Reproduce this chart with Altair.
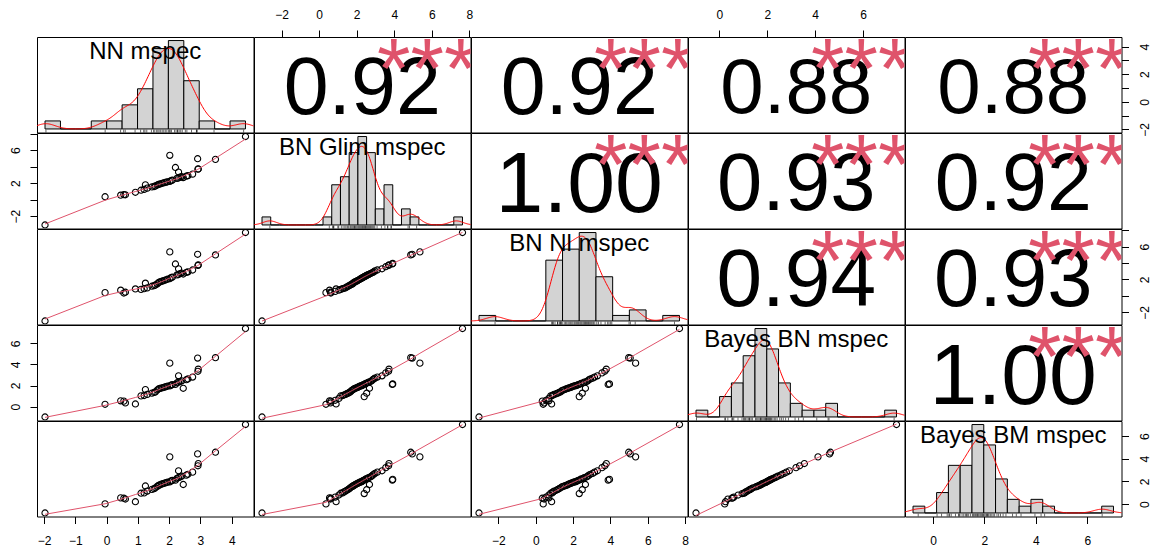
import altair as alt
import numpy as np
import pandas as pd

FONT = "Liberation Sans"
NAMES = ["NN mspec", "BN Glim mspec", "BN Nl mspec", "Bayes BN mspec", "Bayes BM mspec"]
COLS = ["V1", "V2", "V3", "V4", "V5"]
NA = float("nan")

# one value per observation (53 observations, NN mspec has missing values)
nn_mspec = [-1.97, 4.44, 2.02, 2.91, 3.48, -0.05, 0.45, 0.55, 0.60, 0.92,
            NA, NA, 1.10, 1.20, NA, 1.30, NA, 1.45, 1.52, 1.56,
            NA, 1.62, 1.24, 1.66, 1.70, 1.75, 1.80, 1.85, 1.90, 1.95,
            2.02, NA, 2.06, 2.10, NA, NA, NA, NA, 2.25, 2.30,
            2.45, 2.35, 2.40, 2.55, 2.60, NA, 2.75, 2.30, NA, 2.92,
            2.93, 2.20, NA]
bn_glim_mspec = [-3.05, 7.64, 5.37, 4.96, 4.88, 0.36, 0.55, 0.62, 0.60, 0.90,
                 0.85, 1.05, 1.15, 1.25, 1.32, 1.40, 1.47, 1.55, 1.60, 1.66,
                 1.72, 1.78, 1.80, 1.85, 1.90, 1.96, 2.02, 2.07, 2.12, 2.17,
                 2.22, 2.27, 2.31, 2.36, 2.40, 2.44, 2.48, 2.53, 2.58, 2.63,
                 2.68, 2.73, 2.79, 2.85, 2.91, 2.97, 3.10, 3.35, 3.55, 3.70,
                 3.72, 3.90, 3.92]
bn_nl_mspec = [-3.04, 7.70, 5.35, 5.06, 4.98, 0.40, 0.70, 0.35, 0.45, 0.85,
               0.55, 0.70, 0.80, 0.88, 0.93, 0.98, 1.10, 1.18, 1.25, 1.33,
               1.40, 1.47, 1.55, 1.62, 1.70, 1.76, 1.83, 1.90, 1.96, 2.03,
               2.09, 2.15, 2.22, 2.28, 2.33, 2.38, 2.43, 2.49, 2.55, 2.60,
               2.66, 2.72, 2.78, 2.85, 2.93, 3.05, 3.15, 3.30, 3.55, 3.70,
               3.78, 3.88, 3.95]
bayes_bn_mspec = [-0.98, 7.40, 4.12, 4.60, 4.64, 0.22, 0.55, 0.52, 0.35, 0.25,
                  0.60, 0.78, 1.02, 1.05, 1.10, 1.16, 1.22, 1.28, 1.34, 1.40,
                  1.52, 1.57, 1.62, 1.67, 1.72, 1.76, 1.80, 1.85, 1.90, 1.95,
                  1.97, 1.99, 2.03, 2.08, 0.95, 2.14, 2.20, 1.27, 2.26, 2.32,
                  1.74, 2.38, 2.44, 2.55, 2.62, 2.70, 2.80, 2.92, 3.20, 3.35,
                  3.55, 2.10, 2.15]
bayes_bm_mspec = [-0.78, 7.02, 4.17, 4.43, 4.58, 0.02, 0.55, 0.52, 0.45, 0.21,
                  0.62, 0.80, 0.96, 0.99, 1.08, 1.15, 1.22, 1.30, 1.36, 1.44,
                  1.52, 1.56, 1.60, 1.65, 1.70, 1.76, 1.80, 1.85, 1.89, 1.93,
                  1.96, 1.99, 2.04, 2.09, 0.93, 2.16, 2.22, 1.27, 2.28, 2.34,
                  1.73, 2.40, 2.46, 2.56, 2.63, 2.71, 2.82, 2.94, 3.22, 3.38,
                  3.58, 2.12, 2.18]

# correlation labels (upper triangle) and significance stars
COR_TEXT = {(0, 1): "0.92", (0, 2): "0.92", (0, 3): "0.88", (0, 4): "0.88",
            (1, 2): "1.00", (1, 3): "0.93", (1, 4): "0.92",
            (2, 3): "0.94", (2, 4): "0.93",
            (3, 4): "1.00"}
SIG_TEXT = "***"

# histogram breaks (start, end, step) per variable
BREAKS = [(-2.0, 4.5, 0.5), (-3.5, 8.0, 0.5), (-4.0, 8.0, 1.0), (-1.0, 7.5, 0.5), (-1.0, 7.5, 0.5)]

# axis ticks: x axes per column, y axes per row
X_ORIENT = ["bottom", "top", "bottom", "top", "bottom"]
X_TICKS = [[-2, -1, 0, 1, 2, 3, 4], [-2, 0, 2, 4, 6, 8], [-2, 0, 2, 4, 6, 8], [0, 2, 4, 6], [0, 2, 4, 6]]
Y_ORIENT = ["right", "left", "right", "left", "right"]
Y_TICKS = [[-2, -1, 0, 1, 2, 3, 4], [-2, 0, 2, 4, 6, 8], [-2, 0, 2, 4, 6, 8], [0, 2, 4, 6], [0, 2, 4, 6]]
Y_SHOWN = [[-2, 0, 2, 4], [-2, 2, 6], [-2, 2, 6], None, None]

W, H = 216.5, 95.5
F_COR = 86
STAR_COL = "#DF536B"

df = pd.DataFrame({c: v for c, v in zip(COLS, [nn_mspec, bn_glim_mspec, bn_nl_mspec,
                                                 bayes_bn_mspec, bayes_bm_mspec])})


def rng(c):
    v = df[c].dropna()
    a, b = float(v.min()), float(v.max())
    e = 0.04 * (b - a)
    return [a - e, b + e]


DOM = {c: rng(c) for c in COLS}

AXBASE = dict(domain=False, grid=False, tickSize=7, tickWidth=1, tickColor="black",
              labelColor="black", labelFont=FONT, labelFontSize=12, title=None,
              labelOverlap=False, labelFlush=False, labelPadding=12)


def make_axis(orient, ticks, shown=None):
    kw = dict(AXBASE)
    kw["orient"] = orient
    kw["values"] = ticks
    if shown is not None:
        kw["labelExpr"] = f"indexof({shown}, datum.value) >= 0 ? datum.label : ''"
    if orient in ("left", "right"):
        kw["labelAngle"] = 270
        kw["labelAlign"] = "center"
        kw["labelBaseline"] = "alphabetic" if orient == "left" else "top"
        kw["labelPadding"] = 11
    elif orient == "bottom":
        kw["labelBaseline"] = "top"
    else:
        kw["labelBaseline"] = "alphabetic"
    return alt.Axis(**kw)


def x_axis_for(i, j):
    o = X_ORIENT[j]
    if (o == "top" and i == 0) or (o == "bottom" and i == 4):
        return make_axis(o, X_TICKS[j])
    return None


def y_axis_for(i, j):
    o = Y_ORIENT[i]
    if (o == "left" and j == 0) or (o == "right" and j == 4):
        return make_axis(o, Y_TICKS[i], Y_SHOWN[i])
    return None


def sc(c):
    return alt.Scale(domain=DOM[c], nice=False, zero=False)


UNIT = alt.Scale(domain=[0, 1], nice=False, zero=False)
VIEW = alt.ViewBackground(stroke="black", strokeWidth=1, fill="white")


def text_layer(x, y, txt, size, color, dy):
    d = pd.DataFrame({"x": [x], "y": [y], "t": [txt]})
    return alt.Chart(d).mark_text(font=FONT, fontSize=size, color=color, align="center",
                                  baseline="alphabetic", dy=dy, clip=True).encode(
        x=alt.X("x:Q", scale=UNIT, axis=None),
        y=alt.Y("y:Q", scale=UNIT, axis=None),
        text="t:N")


def axis_layer(i, j, xa, ya):
    cx, cy = COLS[j], COLS[i]
    return alt.Chart(df).mark_point(opacity=0).encode(
        x=alt.X(f"{cx}:Q", scale=sc(cx), axis=xa),
        y=alt.Y(f"{cy}:Q", scale=sc(cy), axis=ya))


def bw_nrd0(x):
    sd = np.std(x, ddof=1)
    q75, q25 = np.percentile(x, [75, 25])
    lo = min(sd, (q75 - q25) / 1.34)
    return 0.9 * lo * len(x) ** (-0.2)


def scatter(i, j):
    cx, cy = COLS[j], COLS[i]
    xa = x_axis_for(i, j)
    ya = y_axis_for(i, j)
    base = alt.Chart(df).transform_filter(f"isValid(datum.{cx}) && isValid(datum.{cy})")
    pts = base.mark_point(shape="circle", filled=False, color="black", size=38,
                          strokeWidth=1.1, opacity=1, clip=True).encode(
        x=alt.X(f"{cx}:Q", scale=sc(cx), axis=xa),
        y=alt.Y(f"{cy}:Q", scale=sc(cy), axis=ya))
    line = base.transform_loess(cx, cy, bandwidth=2 / 3).mark_line(
        color=STAR_COL, strokeWidth=1, clip=True).encode(
        x=alt.X(f"{cx}:Q", scale=sc(cx), axis=xa),
        y=alt.Y(f"{cy}:Q", scale=sc(cy), axis=ya))
    return alt.layer(pts, line).properties(width=W, height=H, view=VIEW)


def diag(k):
    c = COLS[k]
    v = df[c].dropna().to_numpy()
    b0, b1, st = BREAKS[k]
    edges = np.arange(b0, b1 + st / 2, st)
    counts, _ = np.histogram(v, bins=edges)
    dens = counts / (len(v) * st)
    hb = pd.DataFrame({"x0": edges[:-1], "x1": edges[1:], "d": dens, "z": 0.0})
    R = b1 - b0
    hx = alt.Scale(domain=[b0 - 0.04 * R, b1 + 0.04 * R], nice=False, zero=False)
    md = float(dens.max())
    hy = alt.Scale(domain=[-0.04 * md, 1.04 * md], nice=False, zero=False)
    bars = alt.Chart(hb).mark_rect(fill="#D3D3D3", stroke="black", strokeWidth=1).encode(
        x=alt.X("x0:Q", scale=hx, axis=None), x2="x1:Q",
        y=alt.Y("d:Q", scale=hy, axis=None), y2="z:Q")
    bw = bw_nrd0(v)
    vd = pd.DataFrame({"v": v})
    dline = alt.Chart(vd).transform_density(
        "v", bandwidth=float(bw), extent=[float(v.min() - 3 * bw), float(v.max() + 3 * bw)],
        steps=300).mark_line(color="red", strokeWidth=1, clip=True).encode(
        x=alt.X("value:Q", scale=hx, axis=None),
        y=alt.Y("density:Q", scale=hy, axis=None))
    rug = alt.Chart(vd).mark_rule(color="black", strokeWidth=0.6).encode(
        x=alt.X("v:Q", scale=hx, axis=None),
        y=alt.value(H - 0.03 * H), y2=alt.value(H))
    lab = text_layer(0.5, 0.8333, NAMES[k], 24, "black", 6.5)
    layers = [bars, dline, rug, lab]
    xa, ya = x_axis_for(k, k), y_axis_for(k, k)
    if xa is not None or ya is not None:
        layers.append(axis_layer(k, k, xa, ya))
    return alt.layer(*layers).resolve_scale(x="independent", y="independent").properties(
        width=W, height=H, view=VIEW)


def corpanel(i, j):
    txt = COR_TEXT[(i, j)]
    r = abs(float(txt))
    fs = F_COR * (r + 0.3) / 1.3
    layers = [text_layer(0.5, 0.5, txt, fs, "black", 0.358 * fs),
              text_layer(0.8, 0.8, SIG_TEXT, F_COR, STAR_COL, 0.49 * F_COR)]
    xa, ya = x_axis_for(i, j), y_axis_for(i, j)
    if xa is not None or ya is not None:
        layers.append(axis_layer(i, j, xa, ya))
    return alt.layer(*layers).resolve_scale(x="independent", y="independent").properties(
        width=W, height=H, view=VIEW)


panels = []
for i in range(5):
    for j in range(5):
        if i == j:
            panels.append(diag(i))
        elif i > j:
            panels.append(scatter(i, j))
        else:
            panels.append(corpanel(i, j))

chart = alt.concat(*panels, columns=5, spacing=0, bounds="flush").properties(
    background="white", padding={"left": 8, "top": 7, "right": 0, "bottom": 0}
).configure_view(stroke="black", strokeWidth=1)

chart.save("out.html", embed_options={"renderer": "svg", "actions": False})
